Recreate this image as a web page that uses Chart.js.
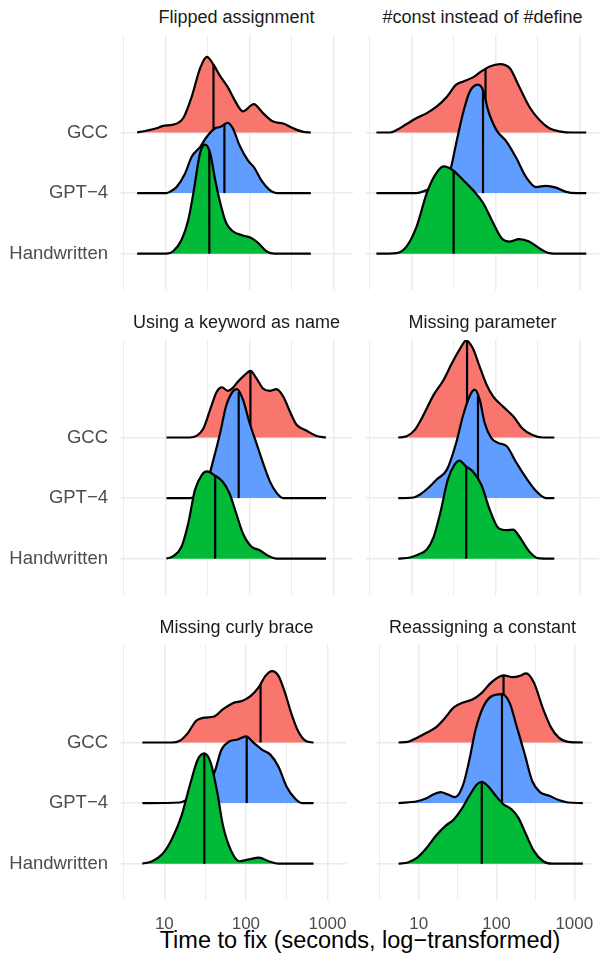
<!DOCTYPE html>
<html>
<head>
<meta charset="utf-8">
<script src="https://cdn.jsdelivr.net/npm/chart.js@4"></script>
<style>
body{margin:0;background:#fff;}
#wrap{position:relative;width:603px;height:959px;overflow:hidden;font-family:"Liberation Sans",Arial,sans-serif;}
#wrap canvas{position:absolute;}
.strip{position:absolute;width:233px;text-align:center;font-size:18px;line-height:18px;color:#1a1a1a;white-space:nowrap;}
#xtitle{position:absolute;left:120px;width:480px;top:929px;text-align:center;font-size:23.5px;line-height:23.5px;color:#000;white-space:nowrap;}
</style>
</head>
<body>
<div id="wrap"><div id="xtitle">Time to fix (seconds, log−transformed)</div></div>
<script>
// facets, in reading order
let facetTitles = ["Flipped assignment","#const instead of #define","Using a keyword as name","Missing parameter","Missing curly brace","Reassigning a constant"]
// y categories from bottom to top
let sources = ["Handwritten","GPT−4","GCC"]
// x ticks (seconds), axis is log10
let xTickValues = [10,100,1000]

// ridge densities: [log10(seconds), height in category units]
let flippedGcc = [[0.66,0],[0.77,0.03],[0.89,0.07],[0.97,0.11],[1.09,0.13],[1.21,0.24],[1.31,0.59],[1.41,1.06],[1.49,1.25],[1.57,1.12],[1.65,0.93],[1.74,0.75],[1.82,0.54],[1.92,0.35],[2.05,0.47],[2.16,0.32],[2.28,0.18],[2.40,0.15],[2.52,0.07],[2.64,0.01],[2.73,0]]
let flippedGpt = [[0.66,0],[1.01,0],[1.05,0.02],[1.13,0.10],[1.23,0.32],[1.31,0.60],[1.41,0.76],[1.49,0.93],[1.59,1.07],[1.65,1.09],[1.74,1.16],[1.80,1.07],[1.88,0.79],[1.98,0.54],[2.06,0.41],[2.14,0.21],[2.24,0.05],[2.32,0],[2.73,0]]
let flippedHw = [[0.66,0],[1.01,0],[1.09,0.04],[1.19,0.23],[1.27,0.56],[1.33,1.00],[1.41,1.66],[1.47,1.80],[1.53,1.66],[1.59,1.22],[1.65,0.84],[1.72,0.51],[1.80,0.37],[1.92,0.30],[2.02,0.26],[2.10,0.18],[2.20,0.04],[2.30,0],[2.73,0]]
let flippedMed = [1.57,1.70,1.52]

let constGcc = [[0.58,0],[0.74,0],[0.82,0.04],[0.94,0.14],[1.06,0.24],[1.18,0.32],[1.30,0.43],[1.42,0.59],[1.53,0.79],[1.61,0.84],[1.73,0.91],[1.83,1.01],[1.93,1.09],[2.05,1.13],[2.17,1.06],[2.28,0.76],[2.40,0.43],[2.52,0.21],[2.64,0.07],[2.76,0.02],[2.92,0],[3.08,0]]
let constGpt = [[0.58,0],[1.06,0],[1.18,0.05],[1.34,0.12],[1.42,0.25],[1.47,0.43],[1.53,0.82],[1.61,1.31],[1.69,1.67],[1.79,1.79],[1.85,1.70],[1.91,1.37],[2.01,1.04],[2.13,0.85],[2.25,0.57],[2.36,0.27],[2.48,0.10],[2.60,0.12],[2.72,0.09],[2.84,0.02],[2.96,0],[3.08,0]]
let constHw = [[0.58,0],[0.82,0.01],[0.94,0.12],[1.06,0.45],[1.18,1.00],[1.28,1.30],[1.38,1.44],[1.49,1.38],[1.61,1.22],[1.73,1.05],[1.85,0.84],[1.97,0.51],[2.07,0.26],[2.17,0.20],[2.28,0.24],[2.40,0.20],[2.52,0.09],[2.64,0.01],[2.76,0],[3.08,0]]
let constMed = [1.88,1.85,1.50]

let keywordGcc = [[1.01,0],[1.29,0],[1.37,0.03],[1.45,0.15],[1.53,0.46],[1.61,0.76],[1.67,0.83],[1.74,0.77],[1.80,0.82],[1.86,0.92],[1.94,1.03],[2.01,1.10],[2.08,0.98],[2.16,0.81],[2.24,0.77],[2.32,0.80],[2.40,0.68],[2.48,0.43],[2.56,0.21],[2.67,0.12],[2.79,0.03],[2.91,0]]
let keywordGpt = [[1.01,0],[1.29,0],[1.37,0.03],[1.41,0.08],[1.49,0.25],[1.57,0.64],[1.65,1.08],[1.72,1.52],[1.80,1.76],[1.85,1.80],[1.92,1.63],[2.00,1.24],[2.08,0.91],[2.16,0.58],[2.24,0.28],[2.32,0.09],[2.40,0],[2.91,0]]
let keywordHw = [[1.01,0],[1.09,0.04],[1.19,0.20],[1.27,0.59],[1.35,1.14],[1.43,1.38],[1.49,1.44],[1.59,1.37],[1.68,1.27],[1.76,1.08],[1.84,0.75],[1.92,0.42],[2.02,0.20],[2.12,0.14],[2.22,0.05],[2.32,0],[2.91,0]]
let keywordMed = [2.01,1.87,1.59]

let paramGcc = [[0.84,0],[0.94,0.02],[1.04,0.13],[1.14,0.37],[1.26,0.70],[1.38,0.95],[1.47,1.20],[1.57,1.45],[1.65,1.60],[1.73,1.47],[1.81,1.17],[1.89,0.88],[1.97,0.68],[2.09,0.51],[2.21,0.35],[2.32,0.15],[2.44,0.04],[2.56,0],[2.70,0]]
let paramGpt = [[0.84,0],[1.02,0.01],[1.10,0.06],[1.20,0.17],[1.30,0.31],[1.42,0.47],[1.53,0.91],[1.61,1.35],[1.69,1.68],[1.75,1.79],[1.81,1.63],[1.87,1.24],[1.95,0.99],[2.03,0.91],[2.13,0.86],[2.25,0.58],[2.36,0.34],[2.48,0.12],[2.60,0],[2.70,0]]
let paramHw = [[0.84,0],[0.98,0.02],[1.08,0.07],[1.18,0.15],[1.26,0.35],[1.34,0.75],[1.43,1.30],[1.51,1.55],[1.57,1.62],[1.65,1.52],[1.73,1.44],[1.83,1.22],[1.93,0.81],[2.03,0.51],[2.13,0.47],[2.21,0.48],[2.28,0.37],[2.40,0.12],[2.50,0.01],[2.70,0]]
let paramMed = [1.66,1.79,1.65]

let braceGcc = [[0.73,0],[1.09,0],[1.19,0.03],[1.29,0.16],[1.39,0.36],[1.49,0.41],[1.61,0.43],[1.72,0.55],[1.84,0.65],[1.96,0.69],[2.06,0.77],[2.16,0.92],[2.24,1.10],[2.32,1.18],[2.40,1.10],[2.48,0.82],[2.56,0.47],[2.64,0.19],[2.73,0.03],[2.83,0]]
let braceGpt = [[0.73,0],[1.19,0.01],[1.27,0.05],[1.41,0.15],[1.51,0.30],[1.61,0.49],[1.70,0.88],[1.80,1.02],[1.90,1.05],[2.00,1.10],[2.10,0.99],[2.20,0.88],[2.30,0.80],[2.40,0.60],[2.50,0.27],[2.60,0.08],[2.69,0],[2.83,0]]
let braceHw = [[0.73,0],[0.85,0.04],[0.97,0.15],[1.09,0.40],[1.21,0.79],[1.31,1.28],[1.41,1.72],[1.49,1.82],[1.57,1.66],[1.65,1.17],[1.72,0.62],[1.82,0.21],[1.92,0.04],[2.04,0.07],[2.16,0.10],[2.28,0.04],[2.40,0],[2.83,0]]
let braceMed = [2.18,2.01,1.49]

let reassignGcc = [[0.74,0],[0.86,0.01],[0.98,0.08],[1.10,0.16],[1.22,0.25],[1.34,0.41],[1.45,0.58],[1.57,0.66],[1.69,0.71],[1.81,0.82],[1.93,0.99],[2.09,1.11],[2.21,1.08],[2.30,1.10],[2.38,1.14],[2.48,0.99],[2.60,0.55],[2.70,0.25],[2.80,0.08],[2.92,0.01],[3.11,0]]
let reassignGpt = [[0.74,0],[0.98,0.03],[1.10,0.08],[1.20,0.15],[1.28,0.18],[1.38,0.14],[1.47,0.10],[1.57,0.30],[1.65,0.71],[1.73,1.21],[1.83,1.59],[1.93,1.76],[2.07,1.80],[2.17,1.65],[2.26,1.26],[2.36,0.82],[2.46,0.36],[2.56,0.18],[2.68,0.12],[2.80,0.05],[2.92,0.01],[3.11,0]]
let reassignHw = [[0.74,0],[0.86,0.02],[0.98,0.10],[1.10,0.26],[1.22,0.46],[1.34,0.62],[1.45,0.73],[1.55,0.90],[1.65,1.12],[1.75,1.31],[1.81,1.35],[1.89,1.28],[1.99,1.12],[2.09,0.98],[2.19,0.90],[2.28,0.76],[2.38,0.48],[2.48,0.21],[2.60,0.04],[2.72,0],[3.11,0]]
let reassignMed = [2.09,2.07,1.81]

// per facet: GCC, GPT-4, Handwritten (top to bottom)
let facetRidges = [
[flippedGcc,flippedGpt,flippedHw],
[constGcc,constGpt,constHw],
[keywordGcc,keywordGpt,keywordHw],
[paramGcc,paramGpt,paramHw],
[braceGcc,braceGpt,braceHw],
[reassignGcc,reassignGpt,reassignHw]
]
let facetMedians = [flippedMed,constMed,keywordMed,paramMed,braceMed,reassignMed]

let ridgeColors = ["#F8766D","#619CFF","#00BA38"]
let gridColor = "#ebebeb"
let xMin = 0.456, xMax = 3.232
let yMin = 0.4, yMax = 4.61

// panel layout (plot areas)
let colLeft = [120,366]
let rowTop = [35,340,645]
let panelW = 233, panelH = 255
let pad = 25 // room so chart.js label padding doesn't shrink the plot area

Chart.defaults.font.family = '"Liberation Sans", Arial, sans-serif'

let majorTicks = xTickValues.map(v => Math.log10(v))
let xGridTicks = []
majorTicks.forEach(v => { xGridTicks.push(v - 0.5); xGridTicks.push(v) })

function heightAt(pts, x){
for(let i=1;i<pts.length;i++){
if(x<=pts[i][0]){
let a=pts[i-1], b=pts[i]
let t=(x-a[0])/(b[0]-a[0])
return a[1]+(b[1]-a[1])*t
}
}
return 0
}

let wrap = document.getElementById("wrap")

facetTitles.forEach((title,i)=>{
let row = Math.floor(i/2), col = i%2
let isLeft = col==0, isBottom = row==2

let strip = document.createElement("div")
strip.className = "strip"
strip.style.left = colLeft[col]+"px"
strip.style.top = (rowTop[row]-27.2)+"px"
strip.textContent = title
wrap.appendChild(strip)

let cv = document.createElement("canvas")
let yAxisW = isLeft ? 120 : 0
let xAxisH = isBottom ? 35 : 0
let padRight = 8
let padBottom = isBottom ? 0 : pad
cv.width = yAxisW + panelW + padRight
cv.height = pad + panelH + xAxisH + padBottom
cv.style.left = (colLeft[col]-yAxisW)+"px"
cv.style.top = (rowTop[row]-pad)+"px"
wrap.appendChild(cv)

let datasets = []
facetRidges[i].forEach((pts,k)=>{
let base = 3-k
datasets.push({
data: pts.map(p=>({x:p[0],y:base+p[1]})),
fill: {value:base},
backgroundColor: ridgeColors[k],
borderColor: "#000",
borderWidth: 2.2,
cubicInterpolationMode: "monotone",
pointRadius: 0,
order: 6-2*k
})
let m = facetMedians[i][k]
datasets.push({
data: [{x:m,y:base},{x:m,y:base+heightAt(pts,m)}],
fill: false,
borderColor: "#000",
borderWidth: 2.2,
pointRadius: 0,
order: 5-2*k
})
})

new Chart(cv,{
type:"line",
data:{datasets:datasets},
options:{
responsive:false,
animation:false,
devicePixelRatio:1,
layout:{padding:{left:0,top:pad,bottom:padBottom,right:padRight}},
plugins:{legend:{display:false},tooltip:{enabled:false}},
scales:{
x:{
type:"linear",
min:xMin,max:xMax,
afterBuildTicks: s => { s.ticks = xGridTicks.map(v=>({value:v})) },
afterFit: s => { s.height = xAxisH },
ticks:{
display:isBottom,
autoSkip:false,maxRotation:0,
padding:14,
color:"#4d4d4d",
font:{size:17},
callback: v => Number.isInteger(v) ? String(Math.round(10**v)) : ""
},
grid:{color:gridColor,drawTicks:false,lineWidth: c => Number.isInteger(c.tick.value) ? 1.5 : 0.9},
border:{display:false}
},
y:{
type:"linear",
min:yMin,max:yMax,
afterBuildTicks: s => { s.ticks = sources.map((n,j)=>({value:j+1})) },
afterFit: s => { s.width = yAxisW },
ticks:{
display:isLeft,
autoSkip:false,
padding:12,
color:"#4d4d4d",
font:{size:18.5},
callback: v => sources[v-1]
},
grid:{color:gridColor,drawTicks:false,lineWidth:1.5},
border:{display:false}
}
}
}
})
})
</script>
</body>
</html>
